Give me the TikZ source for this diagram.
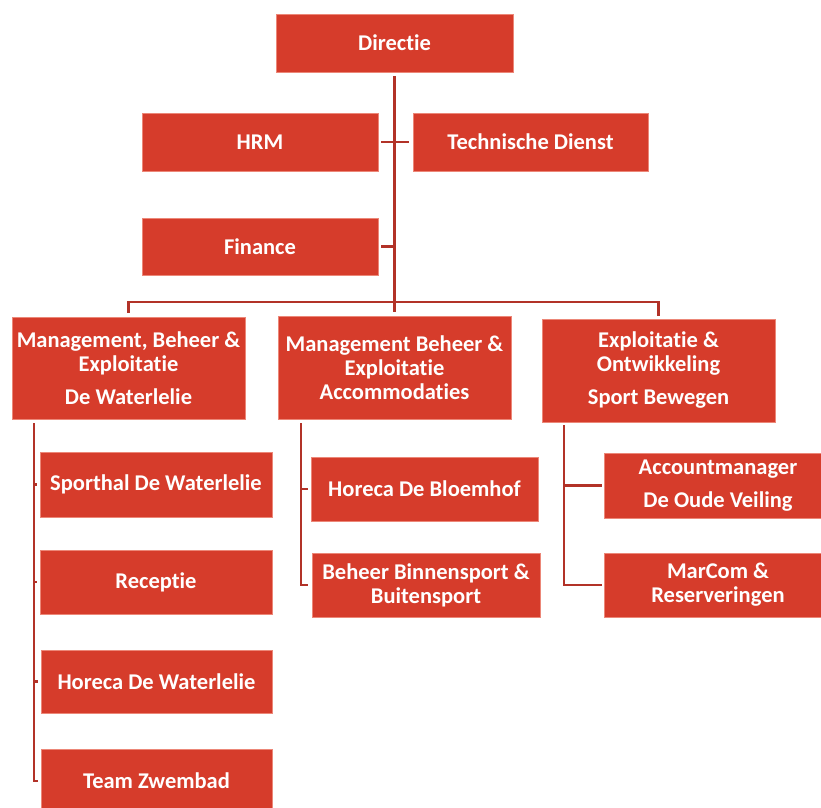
\documentclass[tikz,border=0pt]{standalone}
\usepackage{fontspec}
\setmainfont{Carlito}[Ligatures=NoCommon]
\definecolor{boxred}{RGB}{214,60,43}
\definecolor{boxedge}{RGB}{236,135,120}
\definecolor{linered}{RGB}{178,50,40}
\begin{document}
\begin{tikzpicture}[x=1pt,y=-1pt,
  box/.style={fill=boxred, draw=boxedge, line width=0.6pt, text=white, inner sep=0pt, align=center,
    font=\fontsize{22.5}{24}\selectfont\bfseries},
  conn/.style={draw=linered, line width=2.5pt}]
\useasboundingbox (0,0) rectangle (821,807);
\clip (0,0) rectangle (821,807);
% top level
\node[box, minimum width=237pt, minimum height=58pt] (dir) at (394.5,43) {Directie};
\node[box, minimum width=236pt, minimum height=58pt] (hrm) at (260,142) {HRM};
\node[box, minimum width=235pt, minimum height=58pt] (tech) at (530.5,142) {Technische Dienst};
\node[box, minimum width=236pt, minimum height=57pt] (fin) at (260,246.5) {Finance};
% second level
\node[box, minimum width=233pt, minimum height=102pt] (mbe) at (128.5,368) {Management, Beheer \&\\Exploitatie\\[9pt]De Waterlelie};
\node[box, minimum width=233pt, minimum height=103pt] (mba) at (394.5,367.5) {Management Beheer \&\\Exploitatie\\Accommodaties};
\node[box, minimum width=233pt, minimum height=103pt] (eo) at (658.5,370.5) {Exploitatie \&\\Ontwikkeling\\[9pt]Sport Bewegen};
% left column
\node[box, minimum width=232pt, minimum height=65pt] (sp) at (156,484.5) {Sporthal De Waterlelie};
\node[box, minimum width=232pt, minimum height=64pt] (rec) at (156,582) {Receptie};
\node[box, minimum width=231pt, minimum height=63pt] (hor) at (156.5,681.5) {Horeca De Waterlelie};
\node[box, minimum width=231pt, minimum height=64pt] (tz) at (156.5,781) {Team Zwembad};
% middle column
\node[box, minimum width=227pt, minimum height=64pt] (hb) at (424.5,489) {Horeca De Bloemhof};
\node[box, minimum width=228pt, minimum height=64pt] (bb) at (426,585) {Beheer Binnensport \&\\Buitensport};
% right column
\node[box, minimum width=228pt, minimum height=65pt] (am) at (718,485.5) {Accountmanager\\[9pt]De Oude Veiling};
\node[box, minimum width=228pt, minimum height=64pt] (mc) at (718,585) {MarCom \&\\Reserveringen};
% connectors
\coordinate (bar) at (395,302);
\coordinate (lx) at (34,423);
\coordinate (mx) at (301,423);
\coordinate (rx) at (564,425);
\draw[conn, shorten <=4pt, shorten >=4pt] (dir.south) -- (mba.north);
\draw[conn, shorten <=3pt, shorten >=4pt] (hrm.east) -- (tech.west);
\draw[conn, shorten <=3pt] (fin.east) -- (fin.east -| dir.south);
\draw[conn, shorten <=4pt, shorten >=3pt] (mbe.north) |- (bar) -| (eo.north);
\draw[conn] (lx) |- ([xshift=-3pt]tz.west);
\draw[conn] (lx |- sp.west) -- ([xshift=-3pt]sp.west);
\draw[conn] (lx |- rec.west) -- ([xshift=-3pt]rec.west);
\draw[conn] (lx |- hor.west) -- ([xshift=-3pt]hor.west);
\draw[conn] (mx) |- ([xshift=-4pt]bb.west);
\draw[conn] (mx |- hb.west) -- ([xshift=-3pt]hb.west);
\draw[conn] (rx) |- ([xshift=-2pt]mc.west);
\draw[conn] (rx |- am.west) -- ([xshift=-2pt]am.west);
\end{tikzpicture}
\end{document}
